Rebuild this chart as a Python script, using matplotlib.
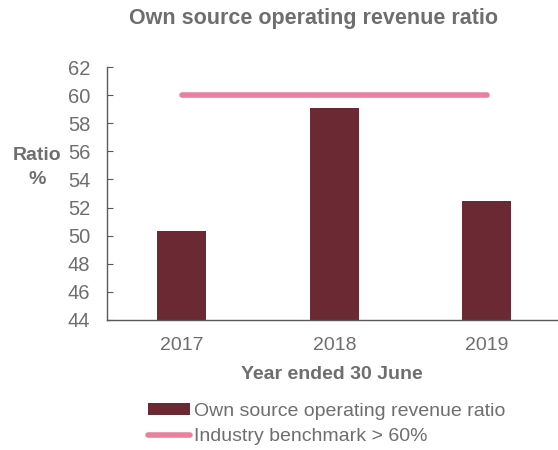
import matplotlib
matplotlib.use('Agg')
import matplotlib.pyplot as plt
import numpy as np

# Chart data
years = ['2017', '2018', '2019']
ratio = [50.3, 59.1, 52.5]
benchmark = [60, 60, 60]

bar_color = '#6b2a33'
line_color = '#e8809f'
text_color = '#6e6e6e'

plt.rcParams['font.family'] = ['Liberation Sans', 'DejaVu Sans']

fig = plt.figure(figsize=(5.58, 4.5), dpi=100)
ax = fig.add_axes([0.192, 0.289, 0.806, 0.562])

x = np.arange(len(years))
bars = ax.bar(x, ratio, width=0.32, color=bar_color, zorder=2,
              label='Own source operating revenue ratio')
line, = ax.plot(x, benchmark, color=line_color, linewidth=4, solid_capstyle='round',
                zorder=3, label='Industry benchmark > 60%')

ax.set_ylim(44, 62)
ax.set_yticks(range(44, 63, 2))
ax.set_xlim(-0.49, 2.46)
ax.set_xticks(x)
ax.set_xticklabels(years)

for side in ['top', 'right']:
    ax.spines[side].set_visible(False)
for side in ['left', 'bottom']:
    ax.spines[side].set_color('#5a5a5a')
    ax.spines[side].set_linewidth(1.0)

ax.tick_params(axis='y', direction='in', length=4, color='#5a5a5a',
               labelsize=14.5, labelcolor=text_color, pad=12)
ax.tick_params(axis='x', length=0, labelsize=14, labelcolor=text_color, pad=12)

fig.text(0.067, 0.627, 'Ratio\n%', ha='center', va='center', fontsize=14,
         fontweight='bold', color=text_color, linespacing=1.55)
ax.set_xlabel('Year ended 30 June', fontsize=14, fontweight='bold',
              color=text_color, labelpad=9)
fig.suptitle('Own source operating revenue ratio', fontsize=15.5, fontweight='bold',
             color=text_color, x=0.561, y=0.982, va='top')

fig.legend(handles=[bars, line], loc='upper left', bbox_to_anchor=(0.247, 0.127),
           frameon=False, fontsize=14, labelcolor=text_color, handlelength=2.2,
           handleheight=0.55, handletextpad=0.2, borderpad=0, labelspacing=0.45)

fig.savefig('out.png', dpi=100, facecolor='white')
